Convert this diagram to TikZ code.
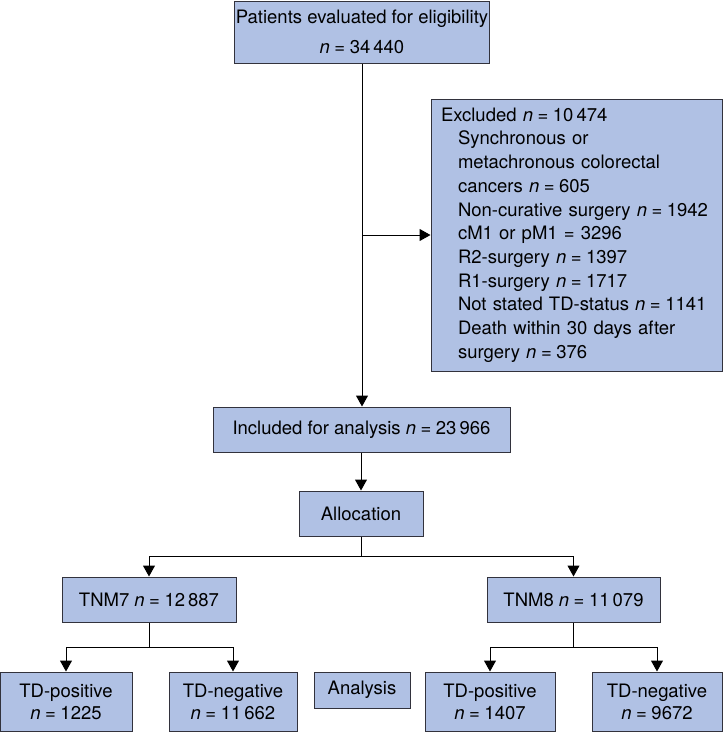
\documentclass[tikz,border=0pt]{standalone}
\usepackage{fontspec}
\setmainfont{TeX Gyre Heros}
\usetikzlibrary{arrows.meta,positioning}
\definecolor{boxfill}{RGB}{176,193,228}
\definecolor{boxline}{RGB}{50,50,60}
\newcommand{\exind}{\hspace*{17pt}}
\newcommand{\nval}[1]{\textit{n}\hspace{4.5pt}=\hspace{4.5pt}#1}

\begin{document}
\begin{tikzpicture}[x=1pt,y=-1pt,
  box/.style={draw=boxline, fill=boxfill, line width=1pt, inner sep=0pt,
    font=\fontsize{18.5}{22}\selectfont, align=center},
  conn/.style={line width=1pt, -{Triangle[length=11pt,width=12pt]}}]
  \useasboundingbox (0,0) rectangle (723,732);

  \node[box, minimum width=255pt, minimum height=62pt] (pat) at (362,32)
    {Patients evaluated for eligibility\\[8pt]\nval{34\,440}};
  \node[box, text width=271pt, inner xsep=10pt, minimum height=272pt,
    align=left, font=\fontsize{18.5}{23.7}\selectfont] (exc) at (576.5,235)
    {Excluded \nval{10\,474}\\
     \exind Synchronous or\\
     \exind metachronous colorectal\\
     \exind cancers \nval{605}\\
     \exind Non-curative surgery \nval{1942}\\
     \exind cM1 or pM1 = 3296\\
     \exind R2-surgery \nval{1397}\\
     \exind R1-surgery \nval{1717}\\
     \exind Not stated TD-status \nval{1141}\\
     \exind Death within 30 days after\\
     \exind surgery \nval{376}};
  \node[box, minimum width=297pt, minimum height=45pt] (inc) at (361.5,429.5)
    {Included for analysis \nval{23\,966}};
  \node[box, minimum width=124pt, minimum height=45pt] (alloc) at (361,513.5) {Allocation};

  \node[box, minimum width=174pt, minimum height=45pt] (tnm7) at (149,599.5) {TNM7 \nval{12\,887}};
  \node[box, minimum width=173pt, minimum height=45pt] (tnm8) at (573.5,599.5) {TNM8 \nval{11\,079}};

  \node[box, minimum width=132pt, minimum height=59pt] (pos7) at (66,701.5) {TD-positive\\\nval{1225}};
  \node[box, minimum width=128pt, minimum height=59pt] (neg7) at (233,701.5) {TD-negative\\\nval{11\,662}};
  \node[box, minimum width=96pt, minimum height=36pt] (ana) at (362,690) {Analysis};
  \node[box, minimum width=130pt, minimum height=59pt] (pos8) at (490,701.5) {TD-positive\\\nval{1407}};
  \node[box, minimum width=130pt, minimum height=59pt] (neg8) at (657,701.5) {TD-negative\\\nval{9672}};

  % flow
  \draw[conn] (pat.south) -- (pat.south |- inc.north);
  \draw[conn] (pat.south |- exc.west) -- (exc.west);
  \draw[conn] (alloc.north |- inc.south) -- (alloc.north);
  \draw[line width=1pt] (alloc.south) -- ++(0,20) coordinate (split);
  \draw[conn] (split) -| (tnm7.north);
  \draw[conn] (split) -| (tnm8.north);

  % TNM7 branch
  \draw[line width=1pt] (tnm7.south) -- ++(0,25) coordinate (split7);
  \draw[conn] (split7) -| (pos7.north);
  \draw[conn] (split7) -| (neg7.north);

  % TNM8 branch
  \draw[line width=1pt] (tnm8.south) -- ++(0,25) coordinate (split8);
  \draw[conn] (split8) -| (pos8.north);
  \draw[conn] (split8) -| (neg8.north);
\end{tikzpicture}
\end{document}
